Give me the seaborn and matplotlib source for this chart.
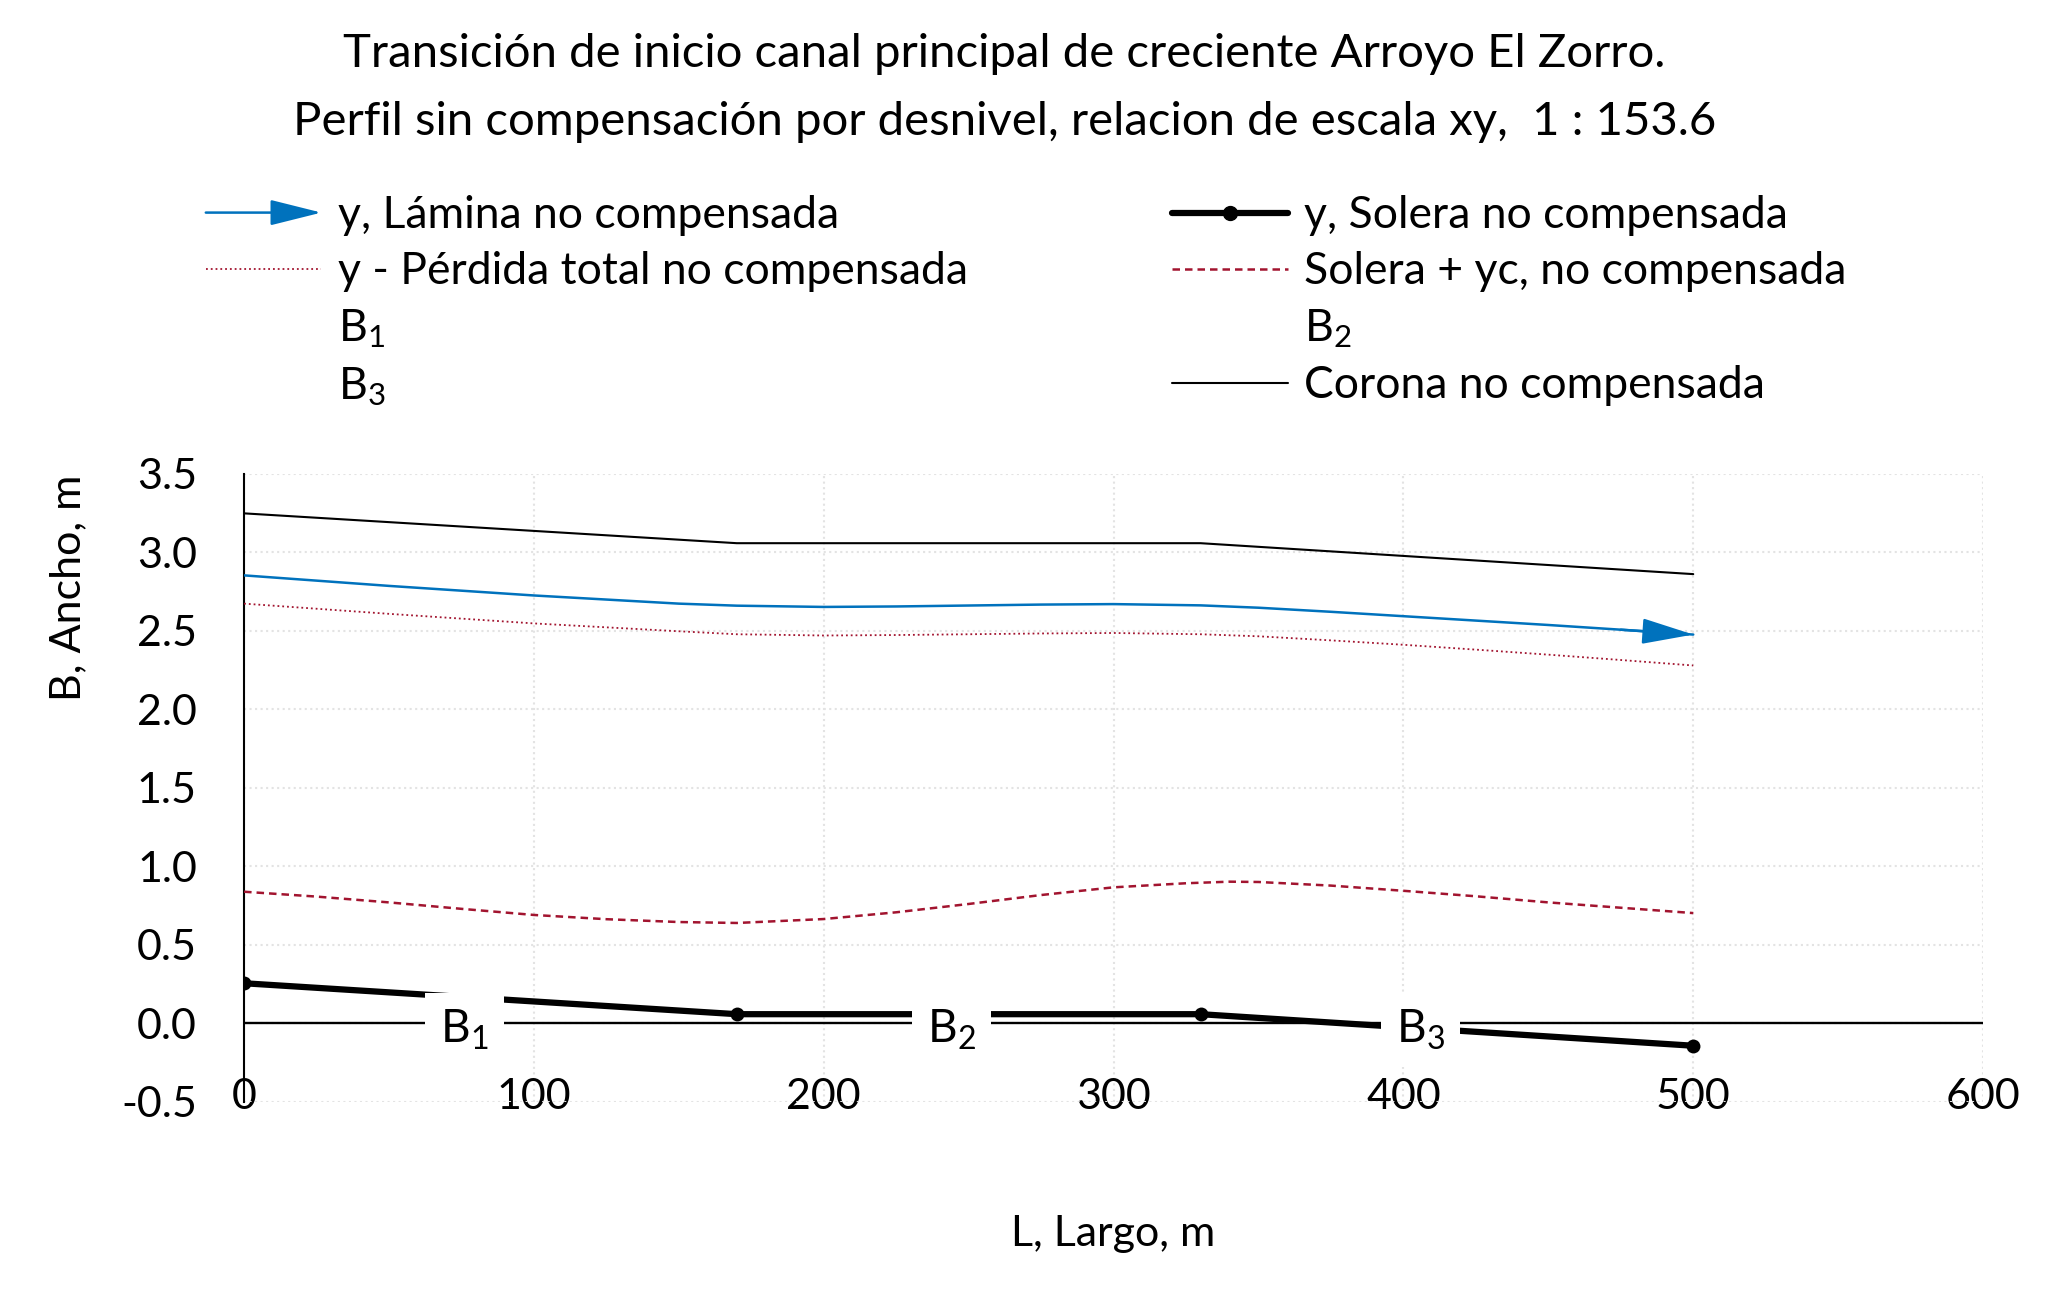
import numpy as np
import pandas as pd
import matplotlib
matplotlib.use("Agg")
import matplotlib.pyplot as plt
import seaborn as sns
from matplotlib.lines import Line2D
from matplotlib.patches import FancyArrowPatch
from matplotlib.legend_handler import HandlerBase

# Datos
x_tramos = [0, 170, 330, 500]
solera = [0.256, 0.059, 0.059, -0.142]
corona = [3.249, 3.059, 3.059, 2.862]

x_curvas = [0, 50, 100, 150, 170, 200, 225, 250, 275, 300, 330, 350, 375, 400, 425, 450, 475, 500]
lamina = [2.854, 2.787, 2.726, 2.674, 2.661, 2.653, 2.656, 2.662, 2.668, 2.671, 2.663, 2.648,
          2.622, 2.594, 2.566, 2.538, 2.508, 2.477]
perdida = [2.674, 2.609, 2.548, 2.498, 2.479, 2.471, 2.474, 2.479, 2.484, 2.487, 2.479, 2.466,
           2.440, 2.412, 2.381, 2.349, 2.315, 2.280]

x_yc = [0, 25, 50, 75, 100, 125, 150, 170, 200, 225, 250, 275, 300, 325, 340, 350, 375, 400, 425, 450, 475, 500]
solera_yc = [0.839, 0.808, 0.771, 0.730, 0.691, 0.664, 0.646, 0.640, 0.665, 0.708, 0.761, 0.818,
             0.867, 0.893, 0.903, 0.901, 0.878, 0.845, 0.810, 0.771, 0.737, 0.703]

b_labels = ["B$_1$", "B$_2$", "B$_3$"]
b_x = [76, 244, 406]
b_y = [-0.04, -0.04, -0.04]

titulo1 = "Transición de inicio canal principal de creciente Arroyo El Zorro."
titulo2 = "Perfil sin compensación por desnivel, relacion de escala xy,  1 : 153.6"

azul = "#0072BD"
rojo = "#A2142F"

sns.set_theme(style="white")
plt.rcParams["font.family"] = ["Lato", "DejaVu Sans"]
plt.rcParams["mathtext.default"] = "regular"
for k in ["text.color", "axes.labelcolor", "xtick.color", "ytick.color"]:
    plt.rcParams[k] = "black"
fs = 31

fig = plt.figure(figsize=(20.58, 13.01), dpi=100)
ax = fig.add_axes([0.1186, 0.153, 0.845, 0.4827])

ax.grid(True, color="#e3e3e3", linestyle=":", linewidth=1.5)
ax.axhline(0, color="black", linewidth=1.7, zorder=2)

sns.lineplot(x=x_tramos, y=corona, ax=ax, color="black", linewidth=1.5, sort=False, zorder=3)
sns.lineplot(x=x_curvas, y=lamina, ax=ax, color=azul, linewidth=1.8, sort=False, zorder=3)
ax.annotate("", xy=(x_curvas[-1], lamina[-1]), xytext=(x_curvas[-2], lamina[-2]),
            arrowprops=dict(arrowstyle="-|>,head_length=1.6,head_width=0.4", color=azul,
                            lw=1.8, shrinkA=0, shrinkB=0, mutation_scale=20), zorder=3)
sns.lineplot(x=x_curvas, y=perdida, ax=ax, color=rojo, linewidth=1.3, linestyle=":", sort=False, zorder=3)
sns.lineplot(x=x_yc, y=solera_yc, ax=ax, color=rojo, linewidth=1.8, linestyle=(0, (3, 2)), sort=False, zorder=3)
sns.lineplot(x=x_tramos, y=solera, ax=ax, color="black", linewidth=4.5, marker="o",
             markersize=10, markeredgewidth=0, sort=False, zorder=4)

for lab, bx, by in zip(b_labels, b_x, b_y):
    ax.text(bx, by, lab, fontsize=fs + 2, ha="center", va="center", zorder=5,
            bbox=dict(facecolor="white", edgecolor="none", pad=11))

ax.set_xlim(0, 600)
ax.set_ylim(-0.5, 3.5)
ax.set_xticks([0, 100, 200, 300, 400, 500, 600])
ax.set_yticks([-0.5, 0, 0.5, 1.0, 1.5, 2.0, 2.5, 3.0, 3.5])
ax.set_yticklabels(["-0.5", "0.0", "0.5", "1.0", "1.5", "2.0", "2.5", "3.0", "3.5"])
ax.tick_params(axis="x", length=0, pad=-17, labelsize=fs)
ax.tick_params(axis="y", length=0, pad=34, labelsize=fs)
for s in ["top", "right", "bottom"]:
    ax.spines[s].set_visible(False)
ax.spines["left"].set_color("black")
ax.spines["left"].set_linewidth(1.5)

ax.set_xlabel("L, Largo, m", fontsize=fs)
ax.set_ylabel("B, Ancho, m", fontsize=fs)
ax.xaxis.label.set_va("center")
ax.yaxis.label.set_va("center")
ax.xaxis.set_label_coords(0.5, -0.21)
ax.yaxis.set_label_coords(-0.101, 0.818)

fig.text(0.488, 0.9585, titulo1, fontsize=34, ha="center", va="center")
fig.text(0.488, 0.906, titulo2, fontsize=34, ha="center", va="center")


class ArrowHandler(HandlerBase):
    def create_artists(self, legend, orig_handle, xdescent, ydescent, width, height, fontsize, trans):
        y = height / 2 - ydescent
        a = FancyArrowPatch((-xdescent, y), (width - xdescent, y),
                            arrowstyle="-|>,head_length=1.6,head_width=0.4", mutation_scale=20,
                            color=azul, lw=1.8, shrinkA=0, shrinkB=0, transform=trans)
        return [a]


h_lamina = FancyArrowPatch((0, 0), (1, 1))
h_perdida = Line2D([], [], color=rojo, linewidth=1.3, linestyle=":")
h_solera = Line2D([], [], color="black", linewidth=4.5, marker="o", markersize=10)
h_yc = Line2D([], [], color=rojo, linewidth=1.8, linestyle=(0, (3, 2)))
h_corona = Line2D([], [], color="black", linewidth=1.5)
h_vacio = Line2D([], [], color="none")

leg_kw = dict(loc="upper left", frameon=False, fontsize=32, borderpad=0, borderaxespad=0,
              handlelength=2.6, handletextpad=0.38, labelspacing=0.34)
leg1 = fig.legend([h_lamina, h_perdida, h_vacio, h_vacio],
                  ["y, Lámina no compensada", "y - Pérdida total no compensada", b_labels[0], b_labels[2]],
                  bbox_to_anchor=(0.100, 0.850), handler_map={FancyArrowPatch: ArrowHandler()}, **leg_kw)
leg2 = fig.legend([h_solera, h_yc, h_vacio, h_corona],
                  ["y, Solera no compensada", "Solera + yc, no compensada", b_labels[1], "Corona no compensada"],
                  bbox_to_anchor=(0.5695, 0.850), **leg_kw)

fig.savefig("out.png", dpi=100)
